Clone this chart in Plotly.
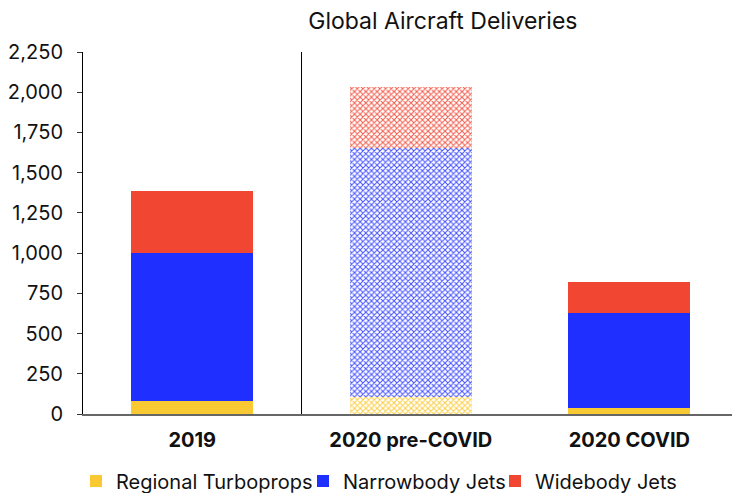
import plotly.graph_objects as go

categories = ["2019", "2020 pre-COVID", "2020 COVID"]
turboprops = [80, 105, 37]
narrowbody = [920, 1550, 590]
widebody = [386, 380, 193]
hatched = [False, True, False]
series_names = ["Regional Turboprops", "Narrowbody Jets", "Widebody Jets"]
yticks = [0, 250, 500, 750, 1000, 1250, 1500, 1750, 2000, 2250]

solid = ["#F9C933", "#1F2FFF", "#F04632"]
hatch_bg = ["#FFF0C4", "#D0D4FF", "#FFD2CB"]
hatch_fg = ["#FACE45", "#4652FF", "#F25C4C"]

legend_ids = ["legend", "legend2", "legend3"]
legend_left_px = [76, 303, 495]

fig = go.Figure()
for i, (name, vals) in enumerate(zip(series_names, [turboprops, narrowbody, widebody])):
    mcols = [hatch_fg[i] if h else solid[i] for h in hatched]
    shapes = ["x" if h else "" for h in hatched]
    fig.add_trace(go.Bar(
        x=categories, y=vals, name=name, width=0.56, legend=legend_ids[i],
        marker=dict(color=mcols, line=dict(width=0),
                    pattern=dict(shape=shapes, bgcolor=hatch_bg[i],
                                 fillmode="replace", size=4, solidity=0.45)),
    ))

fig.add_shape(type="line", xref="x", yref="paper", x0=0.5, x1=0.5, y0=0, y1=1,
              line=dict(color="black", width=1))

legend_common = dict(orientation="h", xref="container", xanchor="left",
                     y=-0.131, yanchor="top", font=dict(size=20, color="#111"),
                     itemwidth=30, bgcolor="rgba(0,0,0,0)")
layout_legends = {lid: dict(legend_common, x=px / 732)
                  for lid, px in zip(legend_ids, legend_left_px)}

fig.update_layout(
    width=732, height=493,
    barmode="stack",
    bargap=0,
    plot_bgcolor="white", paper_bgcolor="white",
    margin=dict(l=83, r=0, t=52, b=79, autoexpand=False),
    font=dict(family="Inter", color="#111"),
    separators=".,",
    title=dict(text="Global Aircraft Deliveries", x=0.605, xanchor="center",
               y=0.958, yanchor="middle", font=dict(size=23, color="#111")),
    showlegend=True,
    **layout_legends,
)
fig.update_xaxes(range=[-0.5, 2.47], showline=True, linecolor="#666", linewidth=2,
                 ticks="outside", ticklen=7, tickcolor="rgba(0,0,0,0)",
                 tickfont=dict(size=20, color="#111", family="Inter", weight="bold"),
                 showgrid=False, zeroline=False)
fig.update_yaxes(range=[0, 2250], tickvals=yticks, tickformat=",", showgrid=False,
                 zeroline=False, showline=True, linecolor="black", linewidth=1,
                 ticks="outside", ticklen=5, tickcolor="#333", ticklabelstandoff=10,
                 tickfont=dict(size=20, color="#111"))

fig.write_html("out.html")
